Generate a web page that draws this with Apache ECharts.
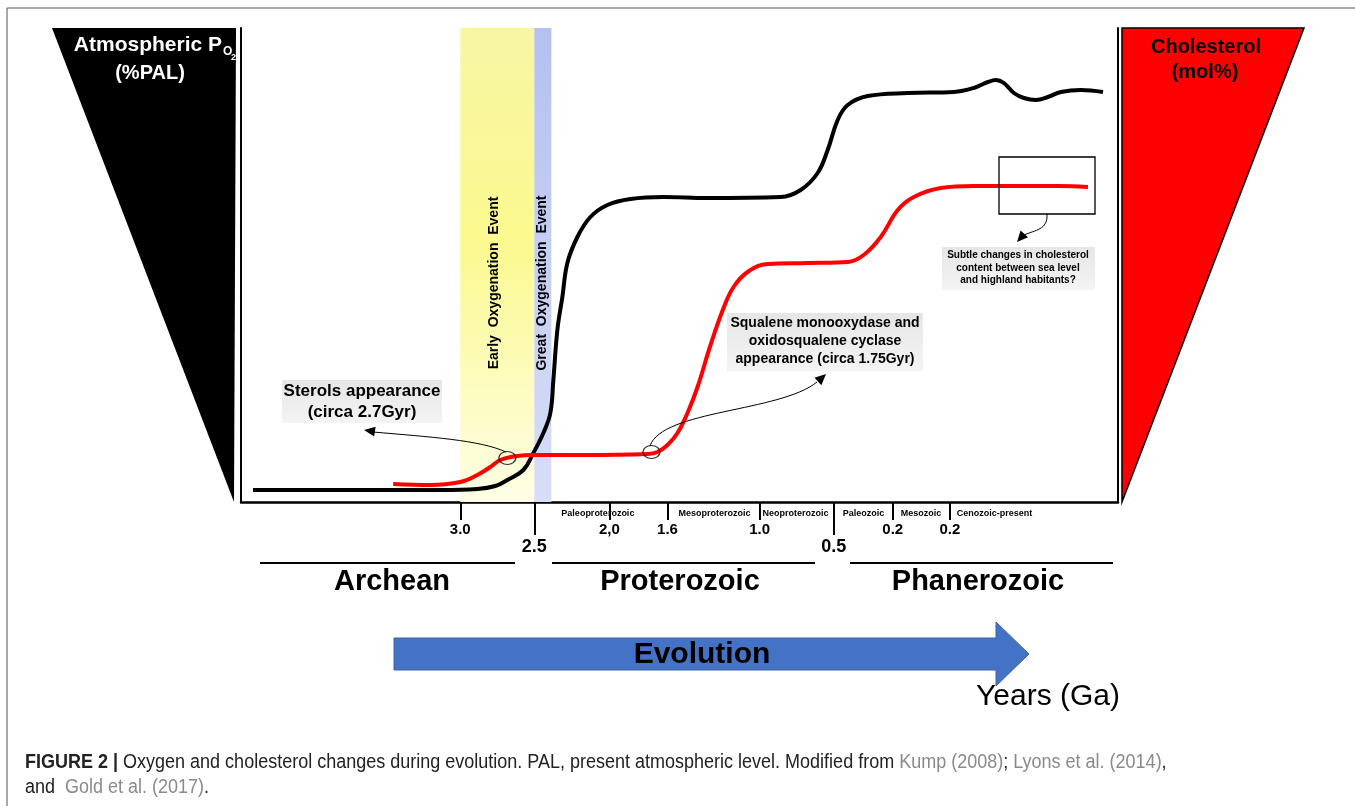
<!DOCTYPE html>
<html>
<head>
<meta charset="utf-8">
<script src="https://cdn.jsdelivr.net/npm/echarts@6/dist/echarts.min.js"></script>
<style>
  html, body { margin: 0; padding: 0; background: #fff; }
  #container { width: 1355px; height: 806px; }
</style>
</head>
<body>
<div id="container"></div>
<script>
// timeline position (0..876) and relative level (0..474) of the two curves
var oxygenCurve = [
  [12,12],[109,12],[199,12],[236,13],[254,16],[266,22],[282,32],[292,49],[302,69],
  [309,89],[312,122],[316,172],[321,205],[326,239],[336,265],[349,285],[366,297],
  [389,303],[422,305],[466,304],[539,305],[559,312],[576,329],[586,352],[596,382],
  [606,397],[626,406],[666,409],[712,410],[732,414],[746,420],[754,422],[762,419],
  [772,409],[782,404],[794,402],[806,405],[819,410],[839,412],[861,410]
];
var cholesterolCurve = [
  [152,18],[189,17],[219,20],[236,27],[249,35],[259,42],[276,46],[292,47],[339,47],
  [406,48],[416,50],[426,57],[436,69],[446,89],[456,115],[469,157],[482,194],
  [492,215],[506,230],[526,238],[566,239],[606,240],[622,247],[639,265],[656,292],
  [672,305],[699,314],[732,316],[766,316],[816,316],[846,315]
];
var eventPoints = [[266,44],[410,50]];

var earlyEvent = [219, 293];
var greatEvent = [293, 310];

var ageTicks = [219, 368, 426, 518, 651, 708];
var ageTickLabels = ['3.0', '2,0', '1.6', '1.0', '0.2', '0.2'];
var eonTicks = [293, 592];
var eonTickLabels = ['2.5', '0.5'];
var eraStarts = [320, 437, 521, 601, 659, 715];
var eraNames = ['Paleoproterozoic', 'Mesoproterozoic', 'Neoproterozoic', 'Paleozoic', 'Mesozoic', 'Cenozoic-present'];
var eonNames = ['Archean', 'Proterozoic', 'Phanerozoic'];

var FONT = '"Liberation Sans", Arial, sans-serif';

var dom = document.getElementById('container');
var myChart = echarts.init(dom);

function pick(list, labels) {
  return function (v) {
    var i = list.indexOf(Math.round(v));
    return i < 0 ? '' : labels[i];
  };
}

function arrowHead(tip, angle, fill) {
  // small filled triangle, angle = direction the head points to
  var len = 11, half = 5;
  var bx = tip[0] - len * Math.cos(angle), by = tip[1] - len * Math.sin(angle);
  var nx = -Math.sin(angle) * half, ny = Math.cos(angle) * half;
  return {
    type: 'polygon', z: 20,
    shape: { points: [tip, [bx + nx, by + ny], [bx - nx, by - ny]] },
    style: { fill: fill || '#000' }
  };
}

function curve(p) {
  return {
    type: 'bezierCurve', z: 20,
    shape: { x1: p[0], y1: p[1], cpx1: p[2], cpy1: p[3], cpx2: p[4], cpy2: p[5], x2: p[6], y2: p[7] },
    style: { stroke: '#000', lineWidth: 1, fill: null }
  };
}

function greyBox(x, y, w, h) {
  return {
    type: 'rect', z: 15,
    shape: { x: x, y: y, width: w, height: h },
    style: {
      fill: new echarts.graphic.LinearGradient(0, 0, 0, 1, [
        { offset: 0, color: '#e6e6e6' }, { offset: 1, color: '#f4f4f4' }
      ])
    }
  };
}

function txt(x, y, text, size, opts) {
  opts = opts || {};
  return {
    type: 'text', z: 25, x: x, y: y,
    rotation: opts.rotation || 0,
    style: {
      text: text,
      fill: opts.color || '#000',
      font: (opts.weight || 'bold') + ' ' + size + 'px ' + FONT,
      textAlign: opts.align || 'center',
      textVerticalAlign: 'middle',
      lineHeight: opts.lineHeight || size * 1.2
    }
  };
}

var eonCenters = [392, 680, 978];
var eonLines = [[260, 515], [552, 815], [850, 1113]];

var graphics = [
  // frame
  { type: 'polyline', z: 1, shape: { points: [[7, 806], [7, 8], [1355, 8]] }, style: { stroke: '#555', lineWidth: 1, fill: null } },
  // scale wedges
  { type: 'polygon', z: 1, shape: { points: [[52, 28], [236, 28], [234, 502]] }, style: { fill: '#000' } },
  { type: 'polygon', z: 1, shape: { points: [[1122, 28], [1304, 28], [1122, 502]] }, style: { fill: '#ff0000', stroke: '#000', lineWidth: 1.5 } },
  txt(222, 45, 'Atmospheric P', 21, { align: 'right', color: '#fff' }),
  txt(223, 52, 'O', 12, { align: 'left', color: '#fff' }),
  txt(231, 58, '2', 9, { align: 'left', color: '#fff' }),
  txt(150, 73, '(%PAL)', 20, { color: '#fff' }),
  txt(1206, 47, 'Cholesterol', 20),
  txt(1205, 72, '(mol%)', 20),
  // events in the bands
  txt(494, 283, 'Early  Oxygenation  Event', 14, { rotation: Math.PI / 2 }),
  txt(542, 283, 'Great  Oxygenation  Event', 14, { rotation: Math.PI / 2 }),
  // annotations
  greyBox(282, 380, 160, 43),
  txt(362, 402, 'Sterols appearance\n(circa 2.7Gyr)', 17, { lineHeight: 21 }),
  curve([506, 452, 480, 440, 430, 437, 373, 432]),
  arrowHead([364, 430], Math.PI + 0.15),
  greyBox(727, 313, 196, 58),
  txt(825, 341, 'Squalene monooxydase and\noxidosqualene cyclase\nappearance (circa 1.75Gyr)', 14, { lineHeight: 18 }),
  curve([650, 446, 662, 410, 780, 412, 817, 382]),
  arrowHead([826, 374], -0.75),
  { type: 'rect', z: 20, shape: { x: 999, y: 157, width: 96, height: 57 }, style: { fill: null, stroke: '#000', lineWidth: 1.3 } },
  curve([1047, 214, 1048, 230, 1035, 230, 1024, 235]),
  arrowHead([1017, 242], 2.3),
  greyBox(942, 247, 153, 43),
  txt(1018, 268, 'Subtle changes in cholesterol\ncontent between sea level\nand highland habitants?', 10, { lineHeight: 12.5 }),
  // evolution arrow
  { type: 'polygon', z: 5, shape: { points: [[394, 638], [996, 638], [996, 622], [1029, 654], [996, 686], [996, 670], [394, 670]] },
    style: { fill: '#4472c4', stroke: '#3a62ad', lineWidth: 1 } },
  txt(702, 655, 'Evolution', 30),
  txt(1048, 697, 'Years (Ga)', 30, { weight: 'normal' }),
  // caption
  {
    type: 'text', z: 25, x: 25, y: 762, scaleX: 0.9,
    style: {
      text: '{b|FIGURE 2 |} Oxygen and cholesterol changes during evolution. PAL, present atmospheric level. Modified from {g|Kump (2008)}; {g|Lyons et al. (2014)},',
      font: '20px ' + FONT, fill: '#222', textAlign: 'left', textVerticalAlign: 'middle',
      rich: {
        b: { font: 'bold 20px ' + FONT, fill: '#222' },
        g: { font: '20px ' + FONT, fill: '#8a8a8a' }
      }
    }
  },
  {
    type: 'text', z: 25, x: 25, y: 787, scaleX: 0.9,
    style: {
      text: 'and  {g|Gold et al. (2017)}.',
      font: '20px ' + FONT, fill: '#222', textAlign: 'left', textVerticalAlign: 'middle',
      rich: { g: { font: '20px ' + FONT, fill: '#8a8a8a' } }
    }
  }
];

eonNames.forEach(function (name, i) {
  graphics.push({ type: 'line', z: 5, shape: { x1: eonLines[i][0], y1: 563, x2: eonLines[i][1], y2: 563 }, style: { stroke: '#000', lineWidth: 2 } });
  graphics.push(txt(eonCenters[i], 582, name, 29));
});

var option = {
  backgroundColor: '#fff',
  animation: false,
  grid: { left: 241, right: 237, top: 28, bottom: 304, outerBoundsMode: 'none', containLabel: false },
  xAxis: [
    {
      type: 'value', min: 0, max: 876, position: 'bottom',
      axisLine: { show: true, onZero: false, lineStyle: { color: '#000', width: 2.5 } },
      axisTick: { show: true, customValues: ageTicks, length: 18, lineStyle: { color: '#000', width: 2 } },
      axisLabel: { show: true, customValues: ageTicks, formatter: pick(ageTicks, ageTickLabels), margin: 20,
        color: '#000', fontWeight: 'bold', fontSize: 15, fontFamily: FONT },
      splitLine: { show: false }
    },
    {
      type: 'value', min: 0, max: 876, position: 'bottom', offset: 0,
      axisLine: { show: false, onZero: false },
      axisTick: { show: true, customValues: eonTicks, length: 33, lineStyle: { color: '#000', width: 2 } },
      axisLabel: { show: true, customValues: eonTicks, formatter: pick(eonTicks, eonTickLabels), margin: 36,
        color: '#000', fontWeight: 'bold', fontSize: 18, fontFamily: FONT },
      splitLine: { show: false }
    },
    {
      type: 'value', min: 0, max: 876, position: 'bottom', offset: 0,
      axisLine: { show: false, onZero: false },
      axisTick: { show: false },
      axisLabel: { show: true, customValues: eraStarts, formatter: pick(eraStarts, eraNames), margin: 7, align: 'left',
        color: '#000', fontWeight: 'bold', fontSize: 9, fontFamily: FONT },
      splitLine: { show: false }
    }
  ],
  yAxis: [
    {
      type: 'value', min: 0, max: 474, position: 'left',
      axisLine: { show: true, onZero: false, lineStyle: { color: '#000', width: 2 } },
      axisTick: { show: false }, axisLabel: { show: false }, splitLine: { show: false }
    },
    {
      type: 'value', min: 0, max: 474, position: 'right',
      axisLine: { show: true, onZero: false, lineStyle: { color: '#000', width: 2 } },
      axisTick: { show: false }, axisLabel: { show: false }, splitLine: { show: false }
    }
  ],
  series: [
    {
      name: 'bands', type: 'line', data: [], z: 1, silent: true,
      markArea: {
        silent: true,
        data: [
          [{ xAxis: earlyEvent[0], itemStyle: { color: new echarts.graphic.LinearGradient(0, 0, 0, 1, [
              { offset: 0, color: '#f8f6a4' }, { offset: 0.45, color: '#fbf98e' }, { offset: 1, color: '#fefee6' }]) } },
           { xAxis: earlyEvent[1] }],
          [{ xAxis: greatEvent[0], itemStyle: { color: new echarts.graphic.LinearGradient(0, 0, 0, 1, [
              { offset: 0, color: '#b4c0ef' }, { offset: 1, color: '#d8def8' }]) } },
           { xAxis: greatEvent[1] }]
        ]
      }
    },
    {
      name: 'Atmospheric PO2', type: 'line', data: oxygenCurve, z: 3,
      smooth: 0.4, showSymbol: false,
      lineStyle: { color: '#000', width: 4 }
    },
    {
      name: 'Cholesterol', type: 'line', data: cholesterolCurve, z: 4,
      smooth: 0.4, showSymbol: false,
      lineStyle: { color: '#ff0000', width: 4 }
    },
    {
      name: 'events', type: 'scatter', data: eventPoints, z: 6,
      symbol: 'circle', symbolSize: [17, 13],
      itemStyle: { color: 'rgba(0,0,0,0)', borderColor: '#000', borderWidth: 1.2 }
    }
  ],
  graphic: graphics
};

if (option && typeof option === 'object') {
  myChart.setOption(option, true);
}
</script>
</body>
</html>
